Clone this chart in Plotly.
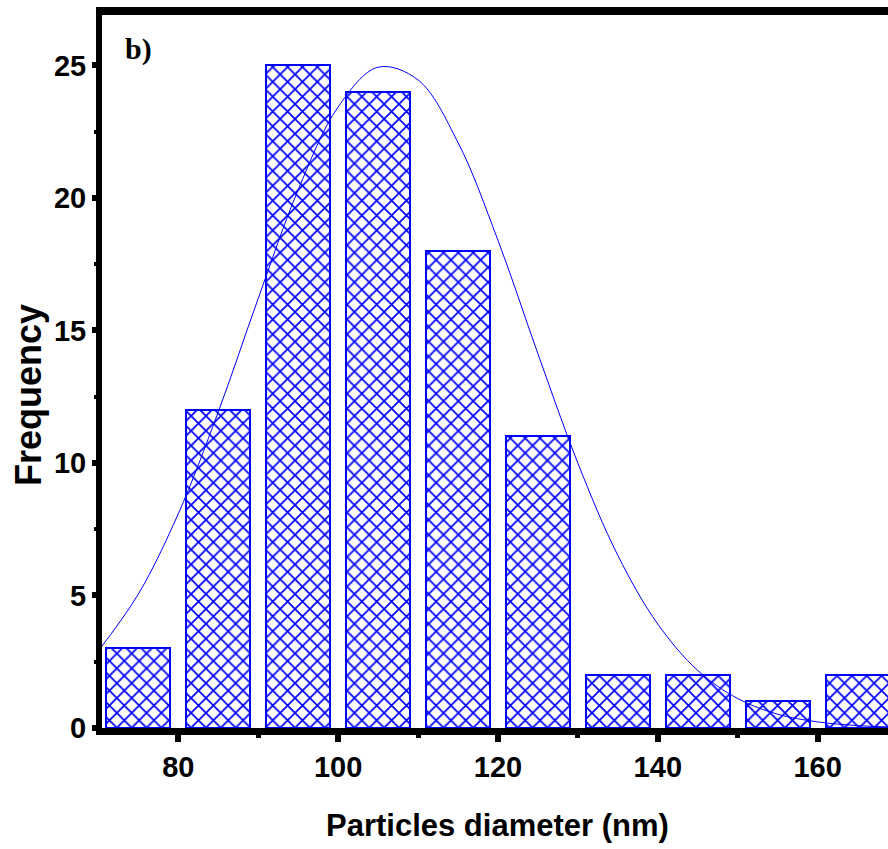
import plotly.graph_objects as go

# Histogram of particle diameters (bin centres, nm) and counts
bin_centers = [75, 85, 95, 105, 115, 125, 135, 145, 155, 165]
counts = [3, 12, 25, 24, 18, 11, 2, 2, 1, 2]
bar_width = 8

# Gaussian fit curve, sampled along the diameter axis
fit_x = [70, 75, 80, 85, 90, 95, 100, 105, 110, 115, 120, 125, 130,
         135, 140, 145, 150, 155, 160, 165, 170]
fit_y = [2.91, 5.05, 8.08, 11.92, 16.20, 20.30, 23.43, 24.93, 24.45,
         22.09, 18.40, 14.12, 9.99, 6.51, 3.92, 2.17, 1.11, 0.52, 0.23,
         0.09, 0.03]

x_ticks = [80, 100, 120, 140, 160]
y_ticks = [0, 5, 10, 15, 20, 25]

BLUE = "#0000ff"
W, H = 888, 849
ML, MR, MT, MB = 102, 0, 15, 121
plot_w = W - ML - MR
plot_h = H - MT - MB

tick_font = dict(family="Liberation Sans, Arial", size=29, color="black", weight="bold")
title_font = dict(family="Liberation Sans, Arial", size=31, color="black", weight="bold")

fig = go.Figure()
fig.add_trace(go.Bar(
    x=bin_centers, y=counts, width=[bar_width] * len(counts),
    marker=dict(
        color=BLUE,
        line=dict(color=BLUE, width=2),
        pattern=dict(shape="x", size=10.5, solidity=0.3,
                     fgcolor=BLUE, bgcolor="white", fillmode="replace"),
    ),
    showlegend=False,
))
fig.add_trace(go.Scatter(
    x=fit_x, y=fit_y, mode="lines",
    line=dict(color=BLUE, width=1, shape="spline", smoothing=1.0),
    showlegend=False, cliponaxis=True,
))

fig.update_layout(
    width=W, height=H,
    margin=dict(l=ML, r=MR, t=MT, b=MB, pad=0),
    paper_bgcolor="white", plot_bgcolor="white",
    bargap=0,
)
fig.update_xaxes(
    range=[70.46, 168.8], tickvals=x_ticks, ticktext=[str(v) for v in x_ticks],
    showgrid=False, zeroline=False,
    showline=True, linecolor="black", linewidth=7,
    ticks="outside", ticklen=7, tickwidth=6, tickcolor="black",
    minor=dict(dtick=10, tick0=0, ticks="outside", ticklen=3, tickwidth=5,
               tickcolor="black", showgrid=False),
    tickfont=tick_font,
)
fig.update_yaxes(
    range=[0, 26.9], tickvals=y_ticks, ticktext=[str(v) for v in y_ticks],
    showgrid=False, zeroline=False,
    showline=True, linecolor="black", linewidth=6,
    ticks="outside", ticklen=4, tickwidth=6, tickcolor="black",
    minor=dict(dtick=2.5, tick0=0, ticks="outside", ticklen=2, tickwidth=4,
               tickcolor="black", showgrid=False),
    tickfont=tick_font,
)

# Heavy top border of the frame
fig.add_shape(type="rect", xref="paper", yref="paper",
              x0=-6 / plot_w, x1=1.05, y0=1, y1=1 + 8 / plot_h,
              fillcolor="black", line=dict(width=0), layer="above")

fig.add_annotation(text="Particles diameter (nm)", xref="paper", yref="paper",
                   x=(498 - ML) / plot_w, y=-(825 - (H - MB)) / plot_h,
                   xanchor="center", yanchor="middle", showarrow=False,
                   font=title_font)
fig.add_annotation(text="Frequency", xref="paper", yref="paper",
                   x=(28 - ML) / plot_w, y=((H - MB) - 395) / plot_h,
                   xanchor="center", yanchor="middle", showarrow=False,
                   textangle=-90,
                   font=dict(family="Liberation Sans, Arial", size=36,
                             color="black", weight="bold"))
fig.add_annotation(text="b)", xref="paper", yref="paper",
                   x=(123 - ML) / plot_w, y=((H - MB) - 49) / plot_h,
                   xanchor="left", yanchor="middle", showarrow=False,
                   font=dict(family="Liberation Serif, Times New Roman", size=30,
                             color="black", weight="bold"))

fig.write_html("out.html")
